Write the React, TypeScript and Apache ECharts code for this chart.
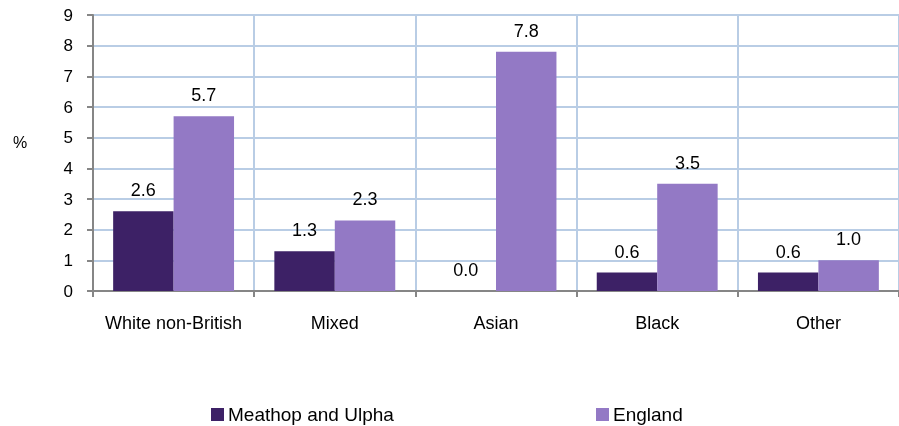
import React, { useEffect, useRef } from "react";
import * as echarts from "echarts";

const categories = ["White non-British", "Mixed", "Asian", "Black", "Other"];
const meathop = [2.6, 1.3, 0.0, 0.6, 0.6];
const england = [5.7, 2.3, 7.8, 3.5, 1.0];
const yTicks = { min: 0, max: 9, interval: 1 };

export default function App() {
  const ref = useRef<HTMLDivElement>(null);
  useEffect(() => {
    if (!ref.current) return;
    const chart = echarts.init(ref.current, undefined, { renderer: "svg" });
    const font = "Liberation Sans, Arial, sans-serif";
    const label = {
      show: true,
      position: "top",
      distance: 12,
      fontFamily: font,
      fontSize: 18,
      color: "#000",
      formatter: (p: any) => Number(p.value).toFixed(1),
    };
    const legendBase = {
      top: 405,
      padding: 0,
      itemWidth: 13,
      itemHeight: 13,
      itemGap: 5,
      icon: "rect",
      textStyle: { fontFamily: font, fontSize: 19, color: "#000", padding: [0, 0, 0, -1] },
    };
    chart.setOption({
      animation: false,
      textStyle: { fontFamily: font },
      grid: { left: 93, right: 0, top: 15, bottom: 135, containLabel: false },
      legend: [
        { ...legendBase, left: 211, data: ["Meathop and Ulpha"] },
        { ...legendBase, left: 596, data: ["England"] },
      ],
      graphic: [
        {
          type: "text",
          left: 13,
          top: 134,
          style: { text: "%", fontFamily: font, fontSize: 16, fill: "#000" },
        },
      ],
      xAxis: {
        type: "category",
        data: categories,
        axisLine: { lineStyle: { color: "#868686", width: 2 } },
        axisTick: { show: true, interval: 0, length: 6, lineStyle: { color: "#868686", width: 2 } },
        axisLabel: { interval: 0, fontFamily: font, fontSize: 18, color: "#000", margin: 23 },
        splitLine: { show: true, interval: 0, lineStyle: { color: "#b9cde5", width: 2 } },
      },
      yAxis: {
        type: "value",
        min: yTicks.min,
        max: yTicks.max,
        interval: yTicks.interval,
        axisLine: { show: true, lineStyle: { color: "#868686", width: 2 } },
        axisTick: { show: true, length: 6, lineStyle: { color: "#868686", width: 2 } },
        axisLabel: { fontFamily: font, fontSize: 17, color: "#000", margin: 20 },
        splitLine: { show: true, lineStyle: { color: "#b9cde5", width: 2 } },
      },
      series: [
        {
          name: "Meathop and Ulpha",
          type: "bar",
          data: meathop,
          barGap: "0%",
          barCategoryGap: "25%",
          itemStyle: { color: "#3d2166" },
          label,
        },
        {
          name: "England",
          type: "bar",
          data: england,
          barGap: "0%",
          barCategoryGap: "25%",
          itemStyle: { color: "#9379c5" },
          label,
        },
      ],
    });
    return () => chart.dispose();
  }, []);
  return (
    <div
      ref={ref}
      style={{ position: "fixed", left: 0, top: 0, width: 899, height: 426 }}
    />
  );
}
